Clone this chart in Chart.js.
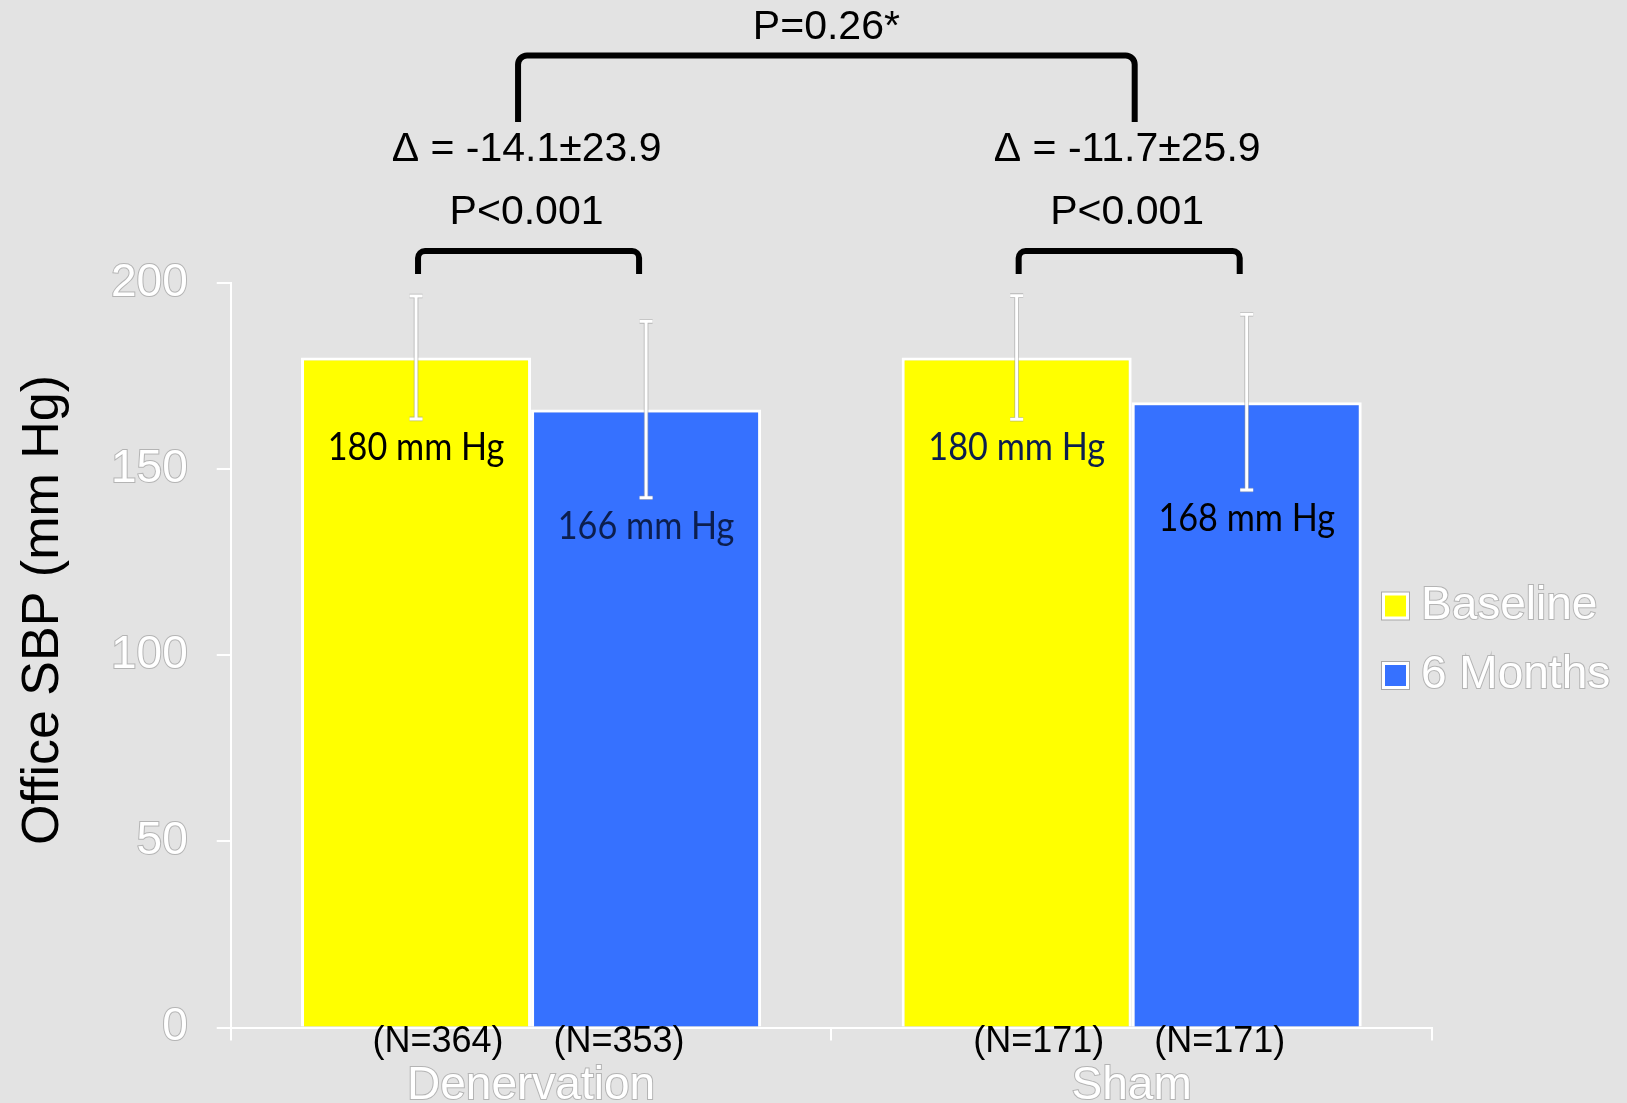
<!DOCTYPE html>
<html>
<head>
<meta charset="utf-8">
<script src="https://cdn.jsdelivr.net/npm/chart.js@4.4.1/dist/chart.umd.min.js"></script>
<style>
  html, body { margin: 0; padding: 0; background: #e3e3e3; }
  #wrap { width: 1627px; height: 1103px; overflow: hidden; }
</style>
</head>
<body>
<div id="wrap"><canvas id="c" width="1627" height="1103"></canvas></div>
<script>
// Office systolic blood pressure, baseline vs 6 months, by treatment group
const categories = ['Denervation', 'Sham'];
const seriesNames = ['Baseline', '6 Months'];
const baselineSBP = [180, 180];
const sixMonthSBP = [166, 168];
const baselineSD = [16.5, 16.6];
const sixMonthSD = [23.7, 23.6];
const baselineN = [364, 171];
const sixMonthN = [353, 171];
const changeLabels = ['Δ = -14.1±23.9', 'Δ = -11.7±25.9'];
const withinGroupP = ['P<0.001', 'P<0.001'];
const betweenGroupP = 'P=0.26*';
const yTicks = [0, 50, 100, 150, 200];
const yTitle = 'Office SBP (mm Hg)';

const ARIAL = "'Liberation Sans', Arial, Helvetica, sans-serif";
const LABEL_FONT = "Lato, 'Open Sans', sans-serif";
const COLORS = ['#ffff00', '#3671ff'];
// text colour of the value label inside each bar: [category][series]
const LABEL_COLORS = [['#000000', '#0c1e4e'], ['#0c1e4e', '#000000']];

const seriesValues = [baselineSBP, sixMonthSBP];
const seriesSD = [baselineSD, sixMonthSD];
const seriesN = [baselineN, sixMonthN];

const backgroundPlugin = {
  id: 'background',
  beforeDraw(chart) {
    const ctx = chart.ctx;
    ctx.save();
    ctx.fillStyle = '#e3e3e3';
    ctx.fillRect(0, 0, chart.width, chart.height);
    ctx.restore();
  }
};

// Error bars, value labels, sample sizes
const barExtrasPlugin = {
  id: 'barExtras',
  afterDatasetsDraw(chart) {
    const ctx = chart.ctx;
    const y = chart.scales.y;
    const xs = chart.scales.x;
    ctx.save();
    seriesValues.forEach((vals, s) => {
      const meta = chart.getDatasetMeta(s);
      vals.forEach((v, i) => {
        const bx = meta.data[i].x;
        const yHi = y.getPixelForValue(v + seriesSD[s][i]);
        const yLo = y.getPixelForValue(v - seriesSD[s][i]);
        const cap = 6.5;
        const path = () => {
          ctx.beginPath();
          ctx.moveTo(bx, yHi); ctx.lineTo(bx, yLo);
          ctx.moveTo(bx - cap, yHi); ctx.lineTo(bx + cap, yHi);
          ctx.moveTo(bx - cap, yLo); ctx.lineTo(bx + cap, yLo);
        };
        ctx.lineCap = 'butt';
        ctx.strokeStyle = 'rgba(150,150,150,0.6)';
        ctx.lineWidth = 4.6;
        path(); ctx.stroke();
        ctx.strokeStyle = '#ffffff';
        ctx.lineWidth = 3;
        path(); ctx.stroke();

        // value label under the error bar
        ctx.save();
        ctx.translate(bx, yLo + 41);
        ctx.scale(0.9, 1);
        ctx.font = '38px ' + LABEL_FONT;
        ctx.fillStyle = LABEL_COLORS[i][s];
        ctx.textAlign = 'center';
        ctx.textBaseline = 'alphabetic';
        ctx.fillText(v + ' mm Hg', 0, 0);
        ctx.restore();
      });
    });

    // sample sizes under each bar
    ctx.font = '36px ' + ARIAL;
    ctx.fillStyle = '#000000';
    ctx.textAlign = 'center';
    ctx.textBaseline = 'alphabetic';
    categories.forEach((c, i) => {
      const cx = xs.getPixelForValue(i);
      ctx.fillText('(N=' + seriesN[0][i] + ')', cx - 93, 1052);
      ctx.fillText('(N=' + seriesN[1][i] + ')', cx + 88, 1052);
    });
    ctx.restore();
  }
};

function bracket(ctx, x1, x2, yTop, yBottom, r) {
  ctx.beginPath();
  ctx.moveTo(x1, yBottom);
  ctx.arcTo(x1, yTop, x2, yTop, r);
  ctx.arcTo(x2, yTop, x2, yBottom, r);
  ctx.lineTo(x2, yBottom);
  ctx.stroke();
}

// Significance brackets, change annotations, axis title, legend
const annotationPlugin = {
  id: 'annotations',
  afterDraw(chart) {
    const ctx = chart.ctx;
    const xs = chart.scales.x;
    ctx.save();
    ctx.strokeStyle = '#000000';
    ctx.fillStyle = '#000000';
    ctx.lineWidth = 6;
    ctx.lineCap = 'butt';
    ctx.textAlign = 'center';
    ctx.textBaseline = 'alphabetic';
    ctx.font = '41px ' + ARIAL;

    const b0 = chart.getDatasetMeta(0);
    const b1 = chart.getDatasetMeta(1);
    categories.forEach((c, i) => {
      const x1 = b0.data[i].x + 2;
      const x2 = b1.data[i].x - 7;
      bracket(ctx, x1, x2, 251, 274, 7);
      const mid = (x1 + x2) / 2 - 2;
      ctx.fillText(withinGroupP[i], mid, 224);
      ctx.fillText(changeLabels[i], mid, 161);
    });

    const tx1 = xs.getPixelForValue(0) - 13;
    const tx2 = xs.getPixelForValue(1) + 3;
    bracket(ctx, tx1, tx2, 55.5, 122, 9);
    ctx.fillText(betweenGroupP, (tx1 + tx2) / 2, 39);

    // y axis title
    ctx.save();
    ctx.translate(58, 610);
    ctx.rotate(-Math.PI / 2);
    ctx.font = '52px ' + ARIAL;
    ctx.fillText(yTitle, 0, 0);
    ctx.restore();

    // legend
    const ds = chart.data.datasets;
    ds.forEach((d, k) => {
      const cy = 606 + k * 69.5;
      const bx = 1382, size = 27;
      ctx.fillStyle = 'rgba(160,160,160,0.9)';
      ctx.fillRect(bx - 1, cy - size / 2 - 1, size + 2, size + 2);
      ctx.fillStyle = '#ffffff';
      ctx.fillRect(bx, cy - size / 2, size, size);
      ctx.fillStyle = d.backgroundColor;
      ctx.fillRect(bx + 3, cy - size / 2 + 3, size - 6, size - 6);
      ctx.font = '46px ' + ARIAL;
      ctx.textAlign = 'left';
      ctx.textBaseline = 'middle';
      ctx.lineWidth = 2;
      ctx.strokeStyle = 'rgba(160,160,160,0.7)';
      ctx.strokeText(d.label, 1421, cy);
      ctx.fillStyle = '#ffffff';
      ctx.fillText(d.label, 1421, cy);
    });
    ctx.restore();
  }
};

new Chart(document.getElementById('c'), {
  type: 'bar',
  data: {
    labels: categories,
    datasets: seriesNames.map((name, s) => ({
      label: name,
      data: seriesValues[s],
      backgroundColor: COLORS[s],
      borderColor: '#ffffff',
      borderWidth: 3,
      categoryPercentage: 0.766,
      barPercentage: 1.0
    }))
  },
  options: {
    responsive: false,
    animation: false,
    events: [],
    layout: { padding: { left: 82, right: 195, top: 283, bottom: -29 } },
    plugins: {
      legend: { display: false },
      tooltip: { enabled: false }
    },
    scales: {
      x: {
        grid: { drawOnChartArea: false, drawTicks: true, tickLength: 13, color: '#ffffff', lineWidth: 2, offset: true },
        border: { display: true, color: '#ffffff', width: 2 },
        ticks: {
          color: '#ffffff',
          font: { family: ARIAL, size: 46, lineHeight: 0.9 },
          padding: 25,
          textStrokeColor: 'rgba(160,160,160,0.7)',
          textStrokeWidth: 2
        }
      },
      y: {
        min: 0,
        max: 200,
        afterBuildTicks: (scale) => { scale.ticks = yTicks.map(v => ({ value: v })); },
        grid: { drawOnChartArea: false, drawTicks: true, tickLength: 14, color: '#ffffff', lineWidth: 2 },
        border: { display: true, color: '#ffffff', width: 2 },
        ticks: {
          color: '#ffffff',
          font: { family: ARIAL, size: 46 },
          padding: 29,
          textStrokeColor: 'rgba(160,160,160,0.7)',
          textStrokeWidth: 2
        }
      }
    }
  },
  plugins: [backgroundPlugin, barExtrasPlugin, annotationPlugin]
});
</script>
</body>
</html>
